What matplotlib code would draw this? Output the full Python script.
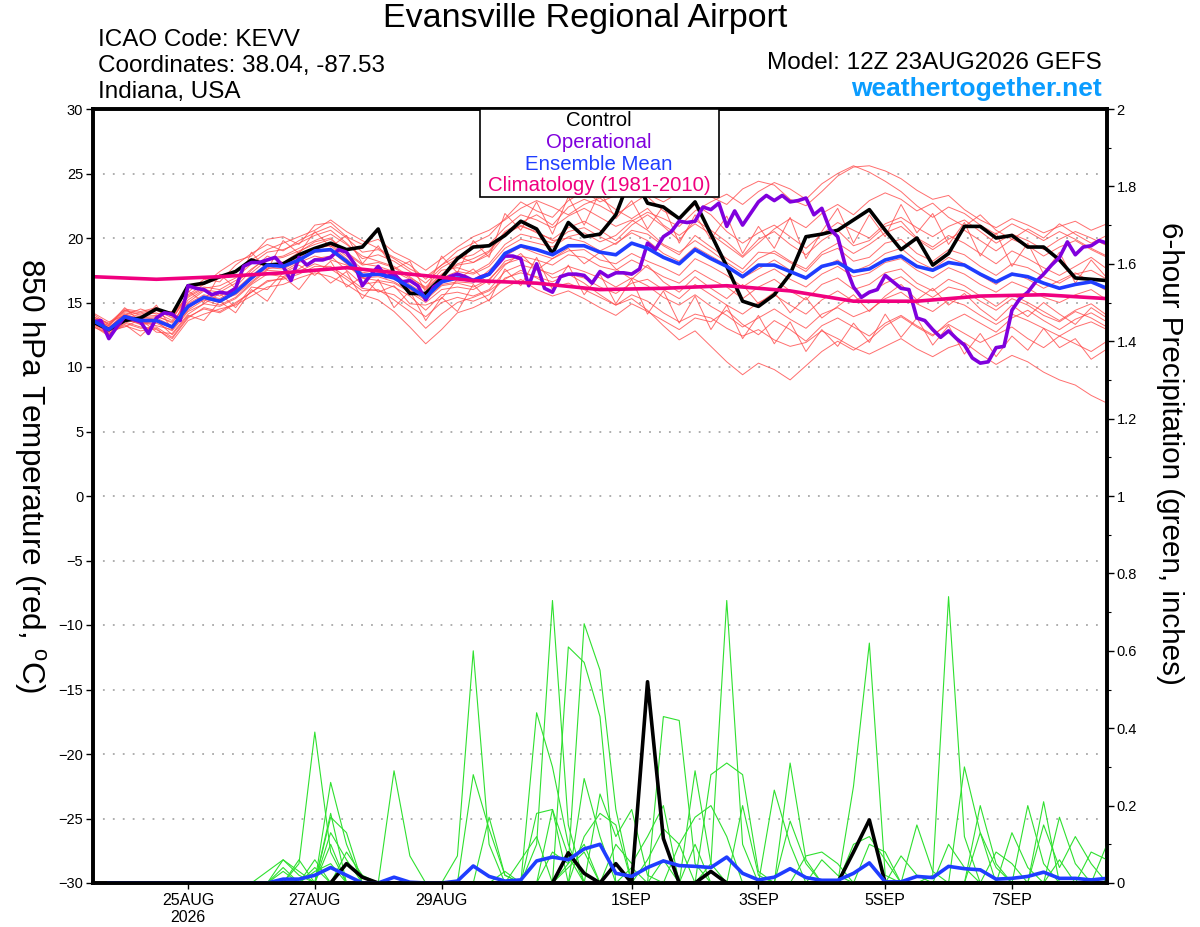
import numpy as np
import pandas as pd
import matplotlib
matplotlib.use('Agg')
import matplotlib.pyplot as plt
from matplotlib.patches import Rectangle
from matplotlib.ticker import MultipleLocator, FormatStrFormatter

plt.rcParams['font.family'] = ['Liberation Sans', 'DejaVu Sans']
plt.rcParams['mathtext.fontset'] = 'custom'
plt.rcParams['mathtext.rm'] = 'Liberation Sans'

# run start and time steps (hours after 12Z 23AUG2026)
run_start = '2026-08-23 12:00'
step_6h = 6
step_3h = 3
n_6h = 65
n_3h = 129

tick_dates = ['2026-08-25', '2026-08-27', '2026-08-29', '2026-09-01',
              '2026-09-03', '2026-09-05', '2026-09-07']
tick_labels = ['25AUG\n2026', '27AUG', '29AUG', '1SEP', '3SEP', '5SEP', '7SEP']

# 850 hPa temperature, deg C
control_t = [13.5, 12.9, 13.6, 13.8, 14.5, 14.1, 16.3, 16.5, 17.0, 17.4, 18.3, 17.9, 18.0,
             18.7, 19.2, 19.6, 19.1, 19.3, 20.7, 17.2, 15.7, 15.7, 16.9, 18.4, 19.3, 19.4,
             20.2, 21.3, 20.7, 18.8, 21.2, 20.1, 20.3, 21.8, 25.0, 22.7, 22.4, 21.5, 22.8,
             20.3, 17.8, 15.1, 14.7, 15.6, 17.2, 20.1, 20.3, 20.6, 21.4, 22.2, 20.6, 19.1,
             20.0, 17.9, 18.8, 20.9, 20.9, 20.0, 20.2, 19.3, 19.3, 18.3, 16.9, 16.8, 16.7]

# operational run is 3-hourly
oper_t = [13.5, 13.6, 12.2, 13.1, 13.9, 13.7, 13.5, 12.6, 13.8, 14.2, 14.1, 13.6, 16.3, 16.1, 16.0, 15.6,
          15.8, 15.7, 16.1, 17.8, 18.1, 18.1, 18.3, 18.5, 17.8, 16.7, 18.5, 17.9, 18.3, 18.3, 18.5, 19.1,
          18.9, 18.0, 16.3, 17.1, 17.8, 17.0, 17.2, 16.6, 16.7, 16.3, 15.2, 16.2, 16.6, 17.0, 17.2, 17.0,
          16.7, 17.0, 17.2, 17.9, 18.6, 18.6, 18.4, 16.3, 18.0, 16.1, 15.8, 17.0, 17.2, 17.2, 17.1, 16.5,
          17.4, 17.0, 17.3, 17.3, 17.2, 17.6, 19.6, 19.1, 20.1, 20.5, 21.3, 21.2, 21.3, 22.4, 22.2, 22.7,
          20.9, 22.1, 21.0, 21.9, 22.8, 23.3, 22.9, 23.3, 22.8, 22.9, 23.1, 21.8, 22.3, 20.7, 20.1, 17.8,
          16.2, 15.4, 15.8, 16.0, 17.1, 16.6, 16.1, 16.0, 13.8, 13.6, 12.9, 12.3, 12.8, 12.2, 11.7, 10.7,
          10.3, 10.4, 11.5, 11.6, 14.4, 15.3, 15.8, 16.6, 17.2, 17.9, 18.5, 19.7, 18.7, 19.3, 19.4, 19.8, 19.6]

mean_t = [13.6, 12.9, 13.9, 13.6, 13.6, 13.1, 14.7, 15.4, 15.1, 15.8, 16.9, 17.9, 17.8,
          18.3, 19.0, 19.1, 18.2, 17.1, 17.2, 16.9, 16.2, 15.4, 16.6, 16.9, 16.7, 17.2,
          18.8, 19.4, 19.1, 18.7, 19.4, 19.4, 18.9, 18.7, 19.6, 19.2, 18.5, 18.0, 19.1,
          18.4, 17.8, 17.0, 17.9, 17.9, 17.4, 16.9, 17.8, 18.1, 17.4, 17.6, 18.3, 18.6,
          17.8, 17.5, 18.1, 17.9, 17.2, 16.6, 17.2, 17.0, 16.5, 16.1, 16.4, 16.6, 16.1]

# climatology, one value per day
clim_t = [17.0, 16.8, 17.0, 17.3, 17.7, 17.2, 16.7, 16.5, 16.0,
          16.1, 16.3, 15.9, 15.1, 15.1, 15.5, 15.6, 15.3]

members_t = [
    [13.8, 13.0, 14.2, 13.9, 14.0, 13.4, 15.2, 16.0, 15.8, 16.5, 17.6, 18.4, 18.6,
     19.2, 19.8, 20.3, 19.5, 18.6, 18.2, 17.8, 17.0, 16.1, 17.2, 18.0, 18.4, 19.0,
     20.5, 21.2, 21.8, 21.0, 22.4, 23.0, 22.5, 21.8, 22.6, 23.4, 22.8, 23.5, 24.0,
     23.2, 22.6, 23.8, 24.4, 24.1, 23.0, 22.5, 23.6, 24.8, 25.5, 25.6, 25.2, 24.6,
     23.7, 23.0, 23.3, 22.2, 21.4, 20.8, 21.5, 21.0, 20.4, 20.9, 21.3, 20.6, 21.1],
    [13.2, 12.4, 13.5, 13.1, 12.9, 12.2, 13.8, 14.6, 14.3, 15.0, 15.8, 16.6, 16.9,
     17.4, 18.0, 17.6, 16.8, 15.9, 16.0, 15.2, 14.3, 13.0, 14.1, 15.0, 15.4, 15.9,
     16.8, 17.5, 16.9, 16.2, 16.5, 16.0, 15.4, 14.8, 15.6, 15.1, 14.2, 13.5, 14.1,
     13.8, 13.0, 12.4, 12.9, 12.1, 11.6, 11.9, 12.8, 12.2, 11.5, 11.0, 11.6, 12.2,
     11.4, 10.8, 11.5, 11.9, 11.0, 10.2, 10.9, 10.4, 9.6, 9.0, 8.6, 7.8, 7.2],
    [13.9, 13.4, 14.5, 14.3, 14.6, 13.9, 15.6, 16.4, 16.9, 17.5, 18.3, 19.1, 19.6,
     20.1, 20.6, 21.4, 20.5, 19.8, 19.2, 18.5, 17.9, 16.8, 17.9, 19.0, 19.6, 20.2,
     21.5, 22.8, 22.1, 21.6, 22.9, 23.6, 22.8, 23.3, 24.0, 23.2, 22.1, 21.5, 22.6,
     21.8, 20.5, 19.6, 20.4, 21.0, 20.1, 19.2, 20.3, 21.2, 20.6, 20.0, 21.1, 21.6,
     20.8, 20.1, 20.9, 21.4, 20.5, 19.6, 20.3, 19.8, 19.1, 19.9, 20.5, 20.0, 19.4],
    [13.4, 12.6, 13.2, 12.8, 13.0, 12.0, 13.6, 14.1, 14.5, 14.8, 15.5, 16.2, 16.4,
     16.9, 17.3, 17.0, 16.4, 15.6, 15.2, 14.3, 13.1, 11.8, 12.9, 14.2, 14.6, 15.2,
     16.1, 16.8, 16.0, 15.5, 15.9, 15.3, 14.6, 14.0, 14.9, 14.3, 13.6, 12.9, 13.8,
     13.5, 14.4, 13.3, 12.5, 13.6, 12.9, 12.0, 13.2, 13.8, 13.1, 12.4, 13.4, 14.0,
     13.2, 12.5, 13.3, 12.6, 11.9, 12.5, 13.1, 12.2, 11.5, 12.4, 11.8, 11.2, 12.0],
    [13.7, 13.1, 14.0, 13.8, 13.9, 13.5, 15.0, 15.9, 15.5, 16.2, 17.5, 18.6, 18.1,
     18.9, 19.7, 20.0, 18.8, 17.9, 18.1, 17.7, 16.9, 16.2, 17.5, 17.7, 17.3, 18.0,
     19.5, 20.3, 20.0, 19.6, 20.5, 20.8, 20.1, 19.5, 20.6, 20.3, 19.4, 18.7, 20.2,
     19.3, 18.4, 17.6, 18.9, 18.8, 18.1, 17.4, 18.7, 19.2, 18.2, 18.5, 19.6, 19.9,
     18.8, 18.2, 19.1, 18.7, 17.8, 17.1, 18.0, 17.7, 17.0, 16.5, 17.2, 17.5, 16.8],
    [13.5, 12.7, 13.7, 13.3, 13.4, 12.8, 14.3, 14.9, 14.7, 15.3, 16.4, 17.2, 17.0,
     17.6, 18.4, 18.6, 17.5, 16.4, 16.6, 16.2, 15.5, 14.4, 15.6, 15.8, 15.5, 16.0,
     17.4, 17.9, 17.6, 17.2, 17.8, 17.4, 16.9, 16.2, 16.9, 16.3, 15.4, 14.8, 15.6,
     14.7, 14.0, 13.1, 13.8, 14.5, 13.7, 13.0, 14.1, 14.6, 13.9, 14.4, 15.3, 15.8,
     14.9, 14.3, 15.2, 14.8, 14.0, 13.3, 14.1, 13.6, 13.0, 12.4, 13.1, 13.5, 12.9],
    [14.1, 13.3, 14.4, 14.0, 14.2, 13.6, 15.8, 16.8, 16.6, 17.9, 18.8, 19.5, 19.0,
     19.8, 20.4, 20.9, 20.0, 18.9, 19.1, 18.4, 17.6, 17.0, 17.9, 18.6, 18.1, 18.7,
     20.2, 21.0, 20.4, 19.9, 20.8, 21.3, 20.6, 19.8, 21.0, 21.8, 20.9, 19.8, 21.4,
     20.6, 19.7, 18.6, 19.9, 20.5, 19.5, 18.7, 19.8, 20.6, 19.4, 19.8, 20.9, 21.3,
     20.0, 19.3, 20.2, 19.6, 18.8, 18.0, 19.0, 18.4, 17.7, 17.1, 17.8, 18.5, 17.6],
    [13.3, 12.9, 13.6, 13.5, 13.2, 12.9, 14.4, 15.2, 14.8, 15.4, 16.5, 17.5, 17.4,
     18.1, 18.6, 18.3, 17.9, 16.9, 16.7, 16.5, 15.8, 15.0, 16.0, 16.2, 16.0, 16.7,
     18.2, 18.6, 18.3, 17.9, 18.7, 18.5, 17.8, 17.5, 18.3, 17.7, 17.0, 16.5, 17.5,
     16.8, 16.2, 15.3, 16.2, 16.8, 15.9, 15.2, 16.4, 16.9, 16.0, 16.4, 17.3, 17.6,
     16.5, 15.9, 16.8, 16.3, 15.5, 14.7, 15.6, 15.0, 14.3, 13.6, 14.4, 14.9, 14.0],
    [13.6, 13.0, 14.1, 13.7, 13.8, 13.2, 14.9, 15.6, 15.3, 16.0, 17.1, 18.0, 17.9,
     18.5, 19.2, 19.4, 18.4, 17.3, 17.5, 17.1, 16.4, 15.6, 16.9, 17.4, 17.2, 17.8,
     19.2, 19.9, 19.6, 19.3, 20.1, 20.4, 19.7, 20.2, 21.3, 22.0, 21.5, 20.9, 22.1,
     22.8, 23.4, 22.6, 23.6, 24.3, 23.8, 23.0, 24.2, 25.0, 25.6, 25.1, 24.4, 23.6,
     22.5, 21.6, 22.4, 21.9, 21.0, 20.3, 21.1, 20.5, 19.8, 20.5, 19.9, 19.2, 18.6],
    [13.5, 12.8, 13.8, 13.4, 13.5, 13.0, 14.6, 15.3, 15.0, 15.7, 16.8, 17.7, 17.6,
     18.2, 18.9, 19.0, 18.0, 16.9, 17.0, 16.6, 15.9, 15.2, 16.3, 16.5, 16.2, 16.8,
     18.0, 18.4, 17.8, 16.9, 17.2, 16.5, 15.6, 14.8, 15.3, 14.4, 13.2, 12.1, 12.8,
     11.6, 10.4, 9.4, 10.3, 9.8, 9.0, 10.1, 11.2, 12.0, 11.3, 12.1, 13.2, 13.9,
     13.1, 12.4, 13.5, 14.1, 13.4, 12.7, 13.8, 14.4, 13.6, 12.9, 13.7, 14.2, 13.5],
    [13.8, 13.2, 14.3, 14.1, 14.4, 13.8, 15.4, 16.1, 16.3, 16.9, 18.0, 18.9, 19.1,
     19.6, 20.2, 20.6, 19.6, 18.4, 18.7, 18.2, 17.4, 16.5, 17.7, 18.4, 18.7, 19.5,
     20.8, 21.8, 21.4, 20.8, 21.7, 22.3, 21.6, 20.9, 21.4, 20.6, 19.5, 18.9, 19.8,
     19.0, 18.1, 17.3, 18.4, 19.0, 18.2, 17.6, 18.9, 19.6, 18.8, 19.5, 20.4, 20.9,
     19.9, 19.1, 19.9, 20.6, 19.8, 19.0, 19.9, 19.4, 18.6, 19.3, 19.8, 19.1, 18.5],
    [13.3, 12.5, 13.4, 13.0, 13.1, 12.3, 13.9, 14.5, 14.2, 14.9, 15.8, 16.7, 16.8,
     17.2, 17.8, 17.8, 17.0, 16.1, 15.9, 15.6, 14.7, 13.9, 15.0, 15.4, 15.1, 15.6,
     16.9, 17.3, 17.0, 16.6, 17.2, 16.9, 16.2, 15.7, 16.5, 16.8, 16.0, 15.3, 16.4,
     15.6, 14.8, 14.1, 15.0, 15.6, 14.8, 14.1, 15.2, 15.9, 15.1, 15.7, 16.5, 17.0,
     16.1, 15.4, 16.2, 15.9, 15.1, 14.4, 15.3, 14.8, 14.0, 13.5, 14.3, 13.8, 13.1],
    [13.9, 13.3, 14.4, 14.2, 14.5, 14.1, 15.5, 16.2, 16.0, 16.7, 17.3, 18.3, 18.5,
     19.0, 19.5, 19.9, 18.9, 18.0, 17.8, 17.4, 16.8, 16.0, 17.1, 17.9, 18.1, 18.9,
     20.4, 20.9, 20.5, 19.8, 20.0, 19.7, 19.0, 19.6, 20.4, 19.8, 18.8, 18.2, 19.3,
     18.6, 17.9, 16.9, 17.6, 18.3, 17.5, 16.8, 17.7, 18.3, 17.4, 17.9, 18.8, 19.2,
     18.2, 17.6, 18.5, 18.0, 17.1, 16.4, 17.3, 16.8, 16.1, 16.7, 17.3, 16.6, 15.9],
    [13.4, 12.7, 13.9, 13.3, 13.7, 13.0, 14.5, 15.5, 15.2, 15.6, 16.6, 17.6, 17.9,
     18.7, 19.1, 19.5, 18.6, 17.6, 17.4, 16.9, 16.0, 15.3, 16.4, 16.6, 16.5, 17.5,
     18.6, 19.3, 18.8, 18.4, 19.0, 19.1, 18.3, 18.0, 18.8, 18.2, 17.7, 17.1, 18.4,
     17.8, 17.1, 16.2, 17.0, 17.6, 16.8, 16.2, 17.2, 17.8, 17.0, 17.3, 18.1, 18.4,
     17.5, 16.9, 17.7, 17.2, 16.4, 15.8, 16.6, 16.1, 15.4, 15.0, 15.6, 16.0, 15.2],
    [13.6, 13.2, 14.6, 13.5, 14.8, 12.9, 15.9, 15.0, 17.2, 16.1, 18.9, 17.5, 19.8,
     18.8, 20.5, 19.3, 20.2, 18.0, 19.4, 17.6, 18.2, 15.8, 18.6, 17.3, 19.8, 18.5,
     21.9, 20.6, 22.8, 20.3, 23.2, 21.0, 23.6, 21.5, 22.9, 20.7, 22.5, 19.6, 21.8,
     19.9, 21.7, 18.8, 20.9, 19.2, 21.6, 18.4, 20.5, 22.3, 19.6, 21.8, 20.1, 22.6,
     20.4, 21.9, 19.5, 21.2, 18.6, 20.4, 17.8, 19.6, 17.2, 18.9, 16.5, 18.3, 16.9],
    [13.1, 12.6, 13.3, 12.4, 13.6, 12.5, 14.0, 13.6, 15.1, 14.2, 16.0, 15.1, 17.0,
     16.0, 17.6, 16.5, 17.4, 15.3, 16.8, 14.6, 15.9, 13.6, 15.4, 14.3, 16.4, 15.1,
     17.6, 16.3, 18.5, 16.0, 17.9, 15.6, 17.2, 14.9, 16.8, 14.1, 15.9, 13.4, 15.5,
     12.9, 14.8, 12.2, 14.0, 11.8, 13.5, 11.2, 12.9, 11.6, 13.4, 11.9, 14.1, 12.3,
     13.8, 11.7, 13.2, 11.0, 12.6, 10.8, 12.4, 11.3, 13.0, 11.5, 12.2, 10.6, 11.4],
    [14.2, 13.5, 14.0, 14.5, 14.1, 14.3, 16.1, 16.4, 17.4, 18.2, 18.6, 19.9, 20.1,
     19.5, 21.0, 21.2, 20.1, 19.5, 19.9, 18.9, 18.3, 17.5, 18.4, 19.3, 20.1, 20.6,
     21.4, 22.3, 22.9, 22.4, 21.8, 22.6, 23.1, 22.2, 21.5, 22.3, 21.0, 20.2, 21.1,
     20.3, 19.4, 18.5, 19.6, 20.7, 21.5, 20.8, 21.9, 22.6, 21.8, 22.9, 23.5, 23.0,
     22.1, 22.7, 21.6, 20.9, 21.8, 20.6, 19.9, 20.7, 20.0, 21.1, 20.3, 19.6, 20.2],
    [13.6, 12.8, 13.1, 13.7, 12.7, 12.6, 14.1, 14.9, 15.7, 14.6, 16.2, 16.0, 17.3,
     17.9, 17.1, 18.2, 16.2, 17.0, 15.8, 16.3, 14.9, 14.8, 15.3, 16.8, 17.6, 16.4,
     17.9, 18.8, 17.5, 18.4, 19.2, 18.0, 18.9, 17.6, 16.8, 17.9, 16.6, 15.8, 17.0,
     16.1, 15.3, 16.4, 14.9, 15.8, 14.2, 15.4, 13.8, 14.7, 15.6, 14.3, 15.5, 16.4,
     15.2, 16.1, 14.8, 15.7, 14.5, 13.6, 14.8, 13.9, 15.0, 14.1, 13.3, 14.6, 13.8],
]

# 6-hour precipitation, inches (from the 6h step on)
control_p = [0, 0, 0, 0, 0, 0, 0, 0, 0, 0, 0, 0, 0, 0, 0, 0.05,
             0.015, 0, 0, 0, 0, 0, 0, 0, 0, 0, 0, 0, 0, 0.078, 0.025, 0,
             0.05, 0, 0.52, 0.115, 0, 0, 0.03, 0, 0, 0, 0, 0, 0, 0, 0, 0.08,
             0.163, 0, 0, 0, 0, 0, 0, 0, 0, 0, 0, 0, 0, 0, 0, 0]

mean_p = [0, 0, 0, 0, 0, 0, 0, 0, 0, 0, 0, 0.01, 0.01, 0.02, 0.04, 0.02,
          0, 0, 0.015, 0.002, 0, 0, 0.005, 0.044, 0.017, 0.005, 0.008, 0.057, 0.067, 0.06, 0.088, 0.1,
          0.025, 0.017, 0.04, 0.057, 0.045, 0.043, 0.04, 0.067, 0.025, 0.008, 0.015, 0.037, 0.014, 0.007, 0.007, 0.025,
          0.052, 0.003, 0.003, 0.017, 0.014, 0.043, 0.037, 0.034, 0.01, 0.012, 0.017, 0.028, 0.012, 0.012, 0.008, 0.012]

members_p = [
    [0, 0, 0, 0, 0, 0, 0, 0, 0, 0, 0, 0, 0.05, 0.39, 0.08, 0,
     0, 0, 0, 0, 0, 0, 0, 0, 0, 0, 0, 0.1, 0.73, 0.15, 0, 0,
     0, 0, 0, 0, 0, 0, 0, 0, 0, 0, 0, 0, 0, 0, 0, 0,
     0, 0, 0, 0, 0.02, 0.74, 0.12, 0, 0, 0, 0, 0, 0, 0, 0, 0],
    [0, 0, 0, 0, 0, 0, 0, 0, 0, 0, 0, 0, 0, 0, 0.26, 0.1,
     0, 0, 0, 0, 0, 0, 0.07, 0.6, 0.1, 0, 0, 0, 0, 0, 0, 0,
     0, 0, 0, 0, 0, 0, 0.05, 0.73, 0.1, 0, 0, 0, 0, 0, 0, 0,
     0, 0, 0, 0, 0, 0, 0, 0, 0, 0, 0, 0, 0, 0, 0, 0],
    [0, 0, 0, 0, 0, 0, 0, 0, 0, 0, 0, 0, 0, 0, 0.17, 0.13,
     0, 0, 0.29, 0.07, 0, 0, 0, 0, 0, 0, 0, 0, 0, 0.05, 0.67, 0.55,
     0.19, 0, 0, 0, 0, 0, 0, 0, 0, 0, 0, 0, 0, 0, 0, 0.25,
     0.62, 0.02, 0, 0, 0, 0, 0, 0, 0, 0, 0, 0, 0, 0, 0, 0],
    [0, 0, 0, 0, 0, 0, 0, 0, 0, 0, 0, 0.06, 0.03, 0, 0.13, 0.06,
     0, 0, 0, 0, 0, 0, 0, 0.28, 0.14, 0.02, 0, 0, 0, 0.61, 0.57, 0.43,
     0, 0, 0, 0.43, 0.42, 0.05, 0, 0, 0, 0, 0, 0, 0, 0, 0, 0,
     0, 0, 0, 0, 0, 0, 0, 0, 0, 0, 0, 0, 0, 0, 0, 0],
    [0, 0, 0, 0, 0, 0, 0, 0, 0, 0, 0, 0.04, 0, 0.06, 0, 0,
     0, 0, 0, 0, 0, 0, 0, 0, 0, 0, 0, 0.44, 0.3, 0.1, 0, 0,
     0, 0, 0, 0, 0, 0.29, 0.05, 0, 0, 0, 0, 0, 0, 0, 0, 0,
     0, 0, 0, 0, 0, 0, 0.3, 0.13, 0, 0, 0, 0, 0, 0, 0, 0],
    [0, 0, 0, 0, 0, 0, 0, 0, 0, 0, 0.03, 0.06, 0.02, 0, 0, 0,
     0, 0, 0, 0, 0, 0, 0, 0, 0, 0, 0, 0.18, 0.19, 0, 0, 0.23,
     0.12, 0.19, 0.02, 0, 0, 0, 0, 0, 0, 0, 0.24, 0.1, 0, 0, 0, 0,
     0, 0, 0, 0, 0, 0, 0, 0, 0, 0, 0.2, 0.05, 0, 0, 0, 0],
    [0, 0, 0, 0, 0, 0, 0, 0, 0, 0, 0, 0, 0.06, 0, 0.18, 0,
     0, 0, 0, 0, 0, 0, 0, 0, 0, 0, 0, 0, 0, 0, 0.27, 0.12,
     0, 0, 0, 0, 0, 0, 0.28, 0.31, 0.28, 0.03, 0, 0, 0, 0, 0, 0,
     0, 0, 0, 0, 0, 0, 0, 0.2, 0.05, 0, 0, 0.21, 0, 0, 0, 0],
    [0, 0, 0, 0, 0, 0, 0, 0, 0, 0, 0, 0, 0, 0, 0, 0.08,
     0.02, 0, 0, 0, 0, 0, 0, 0, 0.17, 0.02, 0, 0, 0.19, 0.07, 0, 0,
     0, 0, 0, 0, 0, 0, 0, 0, 0, 0, 0, 0.31, 0.06, 0, 0, 0,
     0, 0, 0, 0.15, 0.03, 0, 0, 0, 0, 0, 0, 0, 0.17, 0.05, 0, 0],
    [0, 0, 0, 0, 0, 0, 0, 0, 0, 0, 0, 0, 0, 0.04, 0, 0,
     0, 0, 0, 0, 0, 0, 0, 0, 0, 0, 0.06, 0.12, 0, 0, 0, 0,
     0.1, 0.05, 0.12, 0.2, 0, 0, 0, 0, 0.2, 0.02, 0, 0.16, 0.05, 0, 0, 0,
     0.1, 0.08, 0, 0, 0, 0, 0, 0, 0, 0.13, 0.04, 0, 0, 0, 0, 0.1],
    [0, 0, 0, 0, 0, 0, 0, 0, 0, 0, 0, 0, 0, 0, 0.1, 0,
     0, 0, 0, 0, 0, 0, 0, 0, 0, 0, 0, 0, 0, 0, 0.12, 0.18,
     0.15, 0, 0, 0, 0.1, 0.17, 0.2, 0.12, 0, 0, 0, 0, 0, 0.06, 0.02, 0,
     0, 0, 0, 0, 0, 0, 0, 0.13, 0.04, 0, 0, 0.15, 0.04, 0.12, 0.05, 0],
    [0, 0, 0, 0, 0, 0, 0, 0, 0, 0, 0, 0.03, 0, 0, 0, 0,
     0, 0, 0, 0, 0, 0, 0, 0, 0, 0, 0, 0, 0.08, 0.05, 0.1, 0,
     0, 0, 0.06, 0.14, 0.1, 0, 0, 0, 0, 0, 0, 0, 0.07, 0.08, 0.05, 0,
     0, 0, 0.07, 0.02, 0, 0.1, 0.04, 0, 0, 0, 0, 0, 0, 0, 0.08, 0.06],
    [0, 0, 0, 0, 0, 0, 0, 0, 0, 0, 0, 0, 0, 0.03, 0.05, 0,
     0, 0, 0, 0, 0, 0, 0, 0, 0, 0.03, 0, 0, 0, 0.04, 0.08, 0,
     0, 0.04, 0, 0.06, 0, 0.1, 0, 0, 0, 0, 0, 0, 0, 0, 0, 0.1,
     0.12, 0.06, 0, 0, 0, 0, 0, 0, 0.08, 0.05, 0, 0, 0.06, 0, 0, 0],
]

for m in members_t:
    assert len(m) == n_6h
for m in members_p:
    assert len(m) == n_6h - 1
assert len(oper_t) == n_3h and len(control_t) == n_6h and len(mean_t) == n_6h

hours = np.arange(n_6h) * step_6h
hours_op = np.arange(n_3h) * step_3h
hours_clim = np.arange(len(clim_t)) * 24
start = pd.Timestamp(run_start)
tick_hours = [(pd.Timestamp(d) - start) / pd.Timedelta(hours=1) for d in tick_dates]

W, H = 1200, 927
fig = plt.figure(figsize=(W / 100, H / 100), dpi=100)
ax = fig.add_axes([93 / W, 44 / H, 1014 / W, 774 / H])
ax2 = ax.twinx()

red = '#ff4a4a'
green = '#2fe02f'
black = '#000000'
purple = '#8000dd'
blue = '#1f3dff'
magenta = '#f0007f'

for m in members_t:
    ax.plot(hours, m, color=red, lw=0.7, alpha=0.8)
ax.plot(hours, control_t, color=black, lw=2.6)
ax.plot(hours_op, oper_t, color=purple, lw=2.6)
ax.plot(hours, mean_t, color=blue, lw=2.6)
ax.plot(hours_clim, clim_t, color=magenta, lw=2.6)

for m in members_p:
    ax2.plot(hours[1:], m, color=green, lw=0.8)
ax2.plot(hours[1:], control_p, color=black, lw=2.6)
ax2.plot(hours[1:], mean_p, color=blue, lw=2.6)

ax.set_xlim(0, hours[-1])
ax.set_ylim(-30, 30)
ax.set_yticks(np.arange(-30, 31, 5))
ax2.set_ylim(0, 2)
ax2.yaxis.set_major_locator(MultipleLocator(0.2))
ax2.yaxis.set_minor_locator(MultipleLocator(0.1))
ax2.yaxis.set_major_formatter(FormatStrFormatter('%g'))
ax.set_xticks(tick_hours)
ax.set_xticklabels(tick_labels)

ax.yaxis.grid(True, linestyle=(0, (1, 4.5)), color='#a8a8a8', lw=1.3)
ax.tick_params(axis='y', direction='out', length=5, width=1, labelsize=10.5, pad=2)
ax.tick_params(axis='x', direction='out', length=4, width=1, labelsize=11.5, pad=3)
ax2.tick_params(axis='y', which='major', direction='out', length=5, width=1, labelsize=10.5, pad=2)
ax2.tick_params(axis='y', which='minor', direction='out', length=3, width=0.8)
for a in (ax, ax2):
    for s in a.spines.values():
        s.set_linewidth(2.6)

def px(x, y):
    return x / W, 1 - y / H

fig.text(*px(585, 18), 'Evansville Regional Airport', fontsize=24.5, ha='center', va='center')
fig.text(*px(98, 40), 'ICAO Code: KEVV', fontsize=17.5, ha='left', va='center')
fig.text(*px(98, 66), 'Coordinates: 38.04, -87.53', fontsize=17.5, ha='left', va='center')
fig.text(*px(98, 92), 'Indiana, USA', fontsize=17.5, ha='left', va='center')
fig.text(*px(1102, 63), 'Model: 12Z 23AUG2026 GEFS', fontsize=17.5, ha='right', va='center')
fig.text(*px(1102, 89), 'weathertogether.net', fontsize=19, ha='right', va='center',
         color='#0a9cff', fontweight='bold')

fig.text(*px(30, 476), r'850 hPa Temperature (red, $^{\rm o}$C)', fontsize=22.7,
         rotation=270, ha='center', va='center')
fig.text(*px(1170, 453), '6-hour Precipitation (green, inches)', fontsize=21.3,
         rotation=270, ha='center', va='center')

# legend box on top of the lines
box = Rectangle(px(480, 197), 239 / W, 88 / H, transform=fig.transFigure,
                facecolor='white', edgecolor='black', lw=1.2, zorder=5)
fig.add_artist(box)
legend_items = [('Control', black), ('Operational', purple),
                ('Ensemble Mean', blue), ('Climatology (1981-2010)', magenta)]
for k, (txt, col) in enumerate(legend_items):
    fig.text(*px(599, 121 + 21.5 * k), txt, color=col, fontsize=14.7,
             ha='center', va='center', zorder=6)

fig.savefig('out.png', dpi=100)
